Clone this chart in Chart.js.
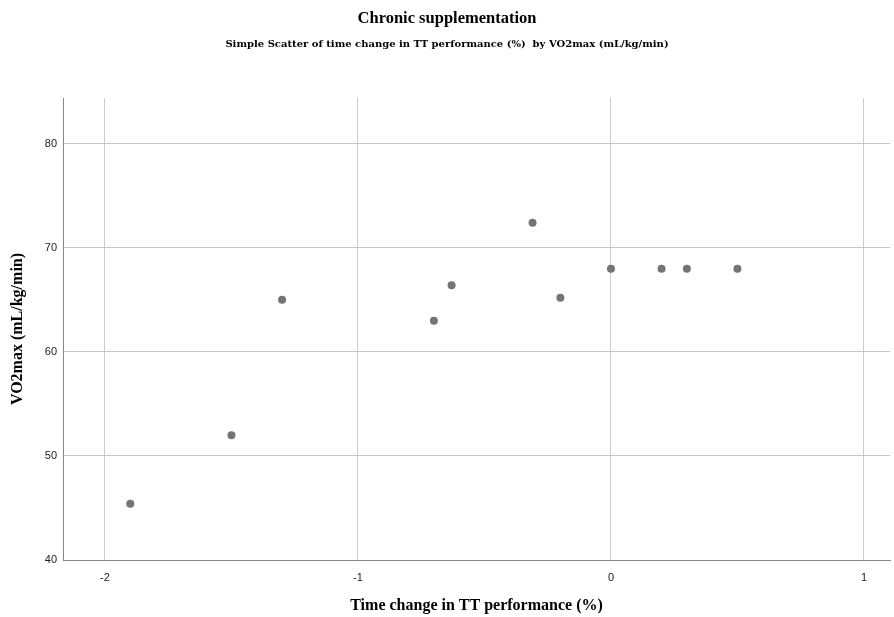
<!DOCTYPE html>
<html>
<head>
<meta charset="utf-8">
<script src="https://cdn.jsdelivr.net/npm/chart.js@4/dist/chart.umd.min.js"></script>
<style>
  html, body { margin: 0; padding: 0; background: #fff; }
  #wrap { width: 894px; height: 617px; }
</style>
</head>
<body>
<div id="wrap"><canvas id="scatterChart"></canvas></div>
<script>
// time change in TT performance (%) vs VO2max
const timeChange = [-1.9, -1.5, -1.3, -0.7, -0.63, -0.31, -0.2, 0, 0.2, 0.3, 0.5];
const vo2max = [45.4, 52, 65, 63, 66.4, 72.4, 65.2, 68, 68, 68, 68];
const xTicks = [-2, -1, 0, 1];
const yTicks = [40, 50, 60, 70, 80];

const serif = "'Liberation Serif', 'DejaVu Serif', serif";
const sans = "'Liberation Sans', Arial, sans-serif";

const points = timeChange.map((x, i) => ({ x: x, y: vo2max[i] }));

new Chart(document.getElementById("scatterChart"), {
    type: "scatter",
    data: {
        datasets: [{
            data: points,
            backgroundColor: "#747474",
            borderWidth: 0,
            pointRadius: 4,
            pointHoverRadius: 4
        }]
    },
    options: {
        responsive: true,
        maintainAspectRatio: false,
        animation: false,
        layout: { padding: 0 },
        plugins: {
            legend: { display: false },
            tooltip: { enabled: false },
            title: {
                display: true,
                text: "Chronic supplementation",
                color: "#000",
                font: { family: serif, size: 16.5, weight: "bold" },
                padding: { top: 9, bottom: 7 }
            },
            subtitle: {
                display: true,
                text: "Simple Scatter of time change in TT performance (%)  by VO2max (mL/kg/min)",
                color: "#000",
                font: { family: "'DejaVu Serif', serif", size: 10, weight: "bold" },
                padding: { top: 3, bottom: 47.2 }
            }
        },
        scales: {
            x: {
                type: "linear",
                min: -2.166,
                max: 1.103,
                afterBuildTicks: axis => { axis.ticks = xTicks.map(v => ({ value: v })); },
                afterFit: axis => { axis.height = 57; },
                grid: { color: "#cccccc", drawTicks: false },
                border: { color: "#888888", width: 1 },
                ticks: {
                    color: "#222",
                    font: { family: sans, size: 11 },
                    padding: 11
                },
                title: {
                    display: true,
                    text: "Time change in TT performance (%)",
                    color: "#000",
                    font: { family: serif, size: 16, weight: "bold" },
                    padding: { top: 0, bottom: 2 }
                }
            },
            y: {
                type: "linear",
                min: 40,
                max: 84.4,
                afterBuildTicks: axis => { axis.ticks = yTicks.map(v => ({ value: v })); },
                afterFit: axis => { axis.width = 63; },
                grid: { color: "#c4c4c4", drawTicks: false },
                border: { color: "#888888", width: 1 },
                ticks: {
                    color: "#222",
                    font: { family: sans, size: 11 },
                    padding: 6
                },
                title: {
                    display: true,
                    text: "VO2max (mL/kg/min)",
                    color: "#000",
                    font: { family: serif, size: 16, weight: "bold" },
                    padding: { top: 8, bottom: 0 }
                }
            }
        }
    }
});
</script>
</body>
</html>
